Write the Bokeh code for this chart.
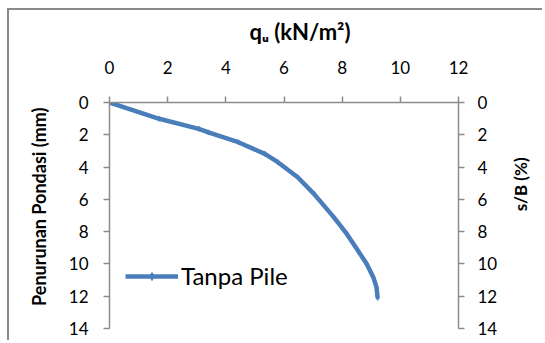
import math
from bokeh.plotting import figure
from bokeh.models import LinearAxis, Range1d, Legend, LegendItem, FixedTicker
from bokeh.embed import file_html
from bokeh.resources import INLINE

# data
qu = [0.0, 1.71, 3.07, 3.40, 4.43, 5.34, 5.79, 6.47, 7.03, 7.71, 8.16, 8.50, 8.84, 9.07, 9.18, 9.22]
settlement = [0.0, 1.01, 1.63, 1.85, 2.46, 3.18, 3.70, 4.63, 5.66, 7.10, 8.14, 9.06, 9.99, 10.82, 11.44, 12.10]
x_ticks = [0, 2, 4, 6, 8, 10, 12]
y_ticks = [0, 2, 4, 6, 8, 10, 12, 14]
series_name = "Tanpa Pile"
x_title = "qᵤ (kN/m²)"
y_title = "Penurunan Pondasi (mm)"
y2_title = "s/B (%)"

FONT = "Lato"
AX = "#8c8c8c"
BLUE = "#4a7ebb"
NB = "\u00a0"

p = figure(width=535, height=332, output_backend="svg", toolbar_location=None,
           x_range=Range1d(0, 12), y_range=Range1d(14, 0),
           x_axis_location="above", y_axis_location="left",
           min_border_left=100, min_border_right=81, min_border_top=92, min_border_bottom=14)
p.outline_line_color = None
p.xgrid.grid_line_color = None
p.ygrid.grid_line_color = None
p.styles = {"margin-left": "7px", "margin-top": "8px",
            "border-left": "2px solid #8a8a8a", "border-top": "2px solid #8a8a8a"}

right_axis = LinearAxis()
p.add_layout(right_axis, "right")

for ax in p.xaxis + p.yaxis:
    ax.axis_line_color = AX
    ax.axis_line_width = 1.5
    ax.major_tick_line_color = AX
    ax.major_tick_line_width = 1.5
    ax.major_tick_in = 0
    ax.major_tick_out = 6
    ax.minor_tick_line_color = None
    ax.major_label_text_font = FONT
    ax.major_label_text_font_size = "17px"
    ax.major_label_text_color = "black"
    ax.axis_label_text_font = FONT
    ax.axis_label_text_font_style = "bold"
    ax.axis_label_text_color = "black"

p.xaxis.ticker = FixedTicker(ticks=x_ticks)
p.xaxis.major_label_standoff = 23
p.xaxis.axis_label = NB * 6 + x_title
p.xaxis.axis_label_text_font_size = "22px"
p.xaxis.axis_label_standoff = 13

for ax in p.yaxis:
    ax.ticker = FixedTicker(ticks=y_ticks)
p.yaxis[0].major_label_standoff = 15
p.yaxis[0].axis_label = NB * 4 + y_title
p.yaxis[0].axis_label_text_font_size = "18px"
p.yaxis[0].axis_label_standoff = 16
right_axis.major_label_standoff = 13
right_axis.axis_label = NB + y2_title
right_axis.axis_label_text_font_size = "17px"
right_axis.axis_label_standoff = 20
try:
    right_axis.axis_label_orientation = math.pi / 2
except Exception:
    pass

line = p.line(qu, settlement, line_color=BLUE, line_width=4.5)
pts = p.scatter(qu, settlement, marker="diamond", size=5, color=BLUE)

legend = Legend(items=[LegendItem(label=series_name, renderers=[line, pts])],
                location=(16, 38), border_line_color=None, background_fill_alpha=0,
                glyph_width=53, glyph_height=20, label_height=20, label_standoff=3,
                padding=0, margin=0, spacing=0,
                label_text_font=FONT, label_text_font_size="24px", label_text_color="black")
p.add_layout(legend, "center")

open("out.html", "w").write(file_html(p, INLINE))
